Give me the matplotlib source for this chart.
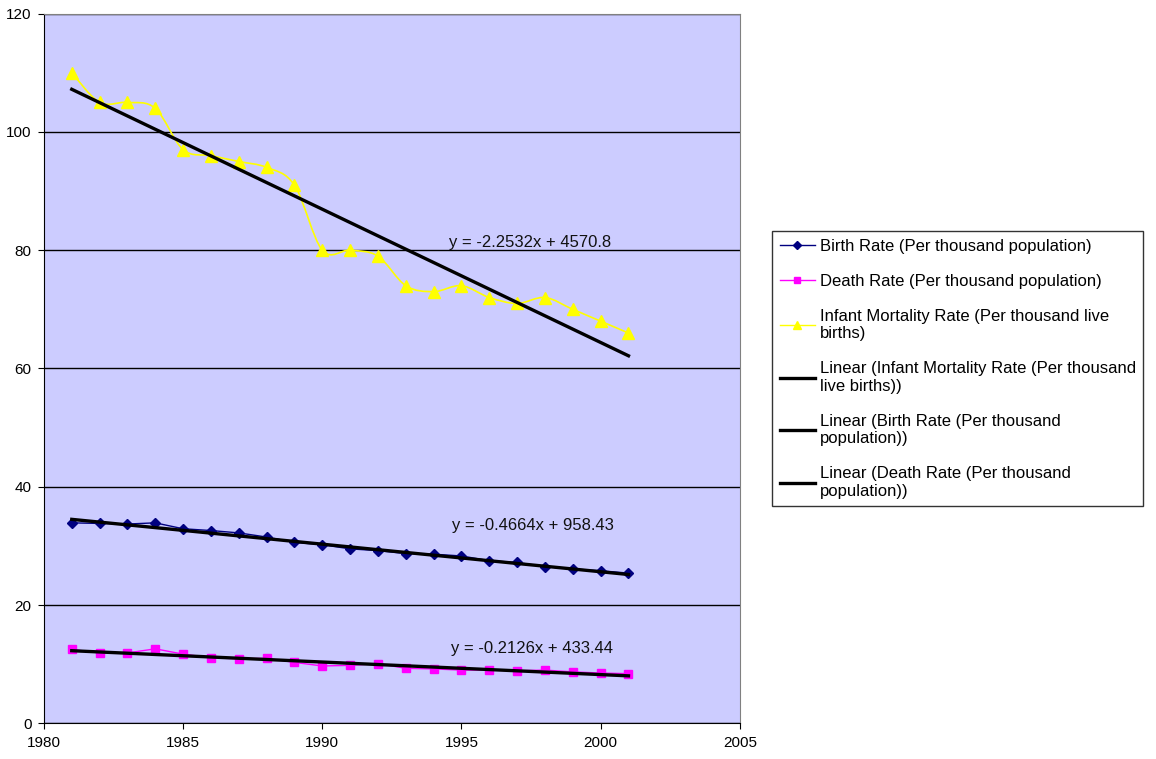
import numpy as np
import matplotlib.pyplot as plt
from matplotlib.path import Path
from matplotlib.patches import PathPatch
from matplotlib.lines import Line2D

plt.rcParams['font.family'] = ['Liberation Sans', 'DejaVu Sans']

years = np.arange(1981, 2002)
birth_rate = [33.9, 33.8, 33.7, 33.9, 32.9, 32.6, 32.2, 31.5, 30.6, 30.2, 29.5,
              29.2, 28.7, 28.6, 28.3, 27.5, 27.2, 26.5, 26.1, 25.8, 25.4]
death_rate = [12.5, 11.9, 11.9, 12.6, 11.7, 11.1, 10.9, 11.0, 10.3, 9.7, 9.8,
              10.1, 9.3, 9.2, 9.0, 9.0, 8.9, 9.0, 8.7, 8.5, 8.4]
infant_mort = [110, 105, 105, 104, 97, 96, 95, 94, 91, 80, 80,
               79, 74, 73, 74, 72, 71, 72, 70, 68, 66]

# trend lines as printed on the chart (IMR, birth, death)
trend_slope = [-2.2532, -0.4664, -0.2126]
trend_icept = [4570.8, 958.43, 433.44]
trend_text = ['y = -2.2532x + 4570.8', 'y = -0.4664x + 958.43', 'y = -0.2126x + 433.44']
trend_pos = [(1997.45, 81.3), (1997.55, 33.5), (1997.55, 12.7)]

labels = ['Birth Rate (Per thousand population)',
          'Death Rate (Per thousand population)',
          'Infant Mortality Rate (Per thousand live\nbirths)',
          'Linear (Infant Mortality Rate (Per thousand\nlive births))',
          'Linear (Birth Rate (Per thousand\npopulation))',
          'Linear (Death Rate (Per thousand\npopulation))']


def smooth_path(x, y, tension=1 / 6):
    # Excel-style smoothed line: Catmull-Rom segments as cubic Beziers
    x = np.asarray(x, float)
    y = np.asarray(y, float)
    verts = [(x[0], y[0])]
    codes = [Path.MOVETO]
    n = len(x)
    for i in range(n - 1):
        p0 = i - 1 if i > 0 else i
        p3 = i + 2 if i + 2 < n else i + 1
        c1 = (x[i] + (x[i + 1] - x[p0]) * tension, y[i] + (y[i + 1] - y[p0]) * tension)
        c2 = (x[i + 1] - (x[p3] - x[i]) * tension, y[i + 1] - (y[p3] - y[i]) * tension)
        verts += [c1, c2, (x[i + 1], y[i + 1])]
        codes += [Path.CURVE4] * 3
    return Path(verts, codes)


fig = plt.figure(figsize=(11.56, 7.59), dpi=100)
ax = fig.add_axes([0.038, 0.047, 0.602, 0.935])
ax.set_facecolor('#CCCCFF')

ax.plot(years, birth_rate, color='#000080', lw=1, marker='D', ms=5, zorder=3)
ax.plot(years, death_rate, color='#FF00FF', lw=1, marker='s', ms=6, zorder=3)
ax.add_patch(PathPatch(smooth_path(years, infant_mort), fill=False,
                       edgecolor='#FFFF00', lw=1.2, zorder=3))
ax.plot(years, infant_mort, ls='none', color='#FFFF00', marker='^', ms=8, zorder=3)

for m, b, txt, (tx, ty) in zip(trend_slope, trend_icept, trend_text, trend_pos):
    ax.plot(years, m * years + b, color='black', lw=2.4, zorder=4)
    ax.text(tx, ty, txt, ha='center', va='center', fontsize=12, color='#111111', zorder=5)

ax.set_xlim(1980, 2005)
ax.set_ylim(0, 120)
ax.set_xticks(range(1980, 2006, 5))
ax.set_yticks(range(0, 121, 20))
ax.yaxis.grid(True, color='black', lw=1)
ax.set_axisbelow(True)
ax.tick_params(labelsize=11, length=4, direction='out', pad=5)
for s in ax.spines.values():
    s.set_color('#808080')
ax.spines['left'].set_color('black')
ax.spines['bottom'].set_color('black')

handles = [Line2D([], [], color='#000080', marker='D', ms=4, lw=1),
           Line2D([], [], color='#FF00FF', marker='s', ms=5, lw=1),
           Line2D([], [], color='#FFFF00', marker='^', ms=6, lw=1),
           Line2D([], [], color='black', lw=2.4),
           Line2D([], [], color='black', lw=2.4),
           Line2D([], [], color='black', lw=2.4)]
leg = fig.legend(handles, labels, loc='upper left', bbox_to_anchor=(0.668, 0.695),
                 fontsize=12, frameon=True, fancybox=False, edgecolor='black',
                 handlelength=2.1, labelspacing=1.2, borderpad=0.45, handletextpad=0.3,
                 borderaxespad=0)
leg.get_frame().set_linewidth(1)

fig.savefig('out.png', dpi=100)
